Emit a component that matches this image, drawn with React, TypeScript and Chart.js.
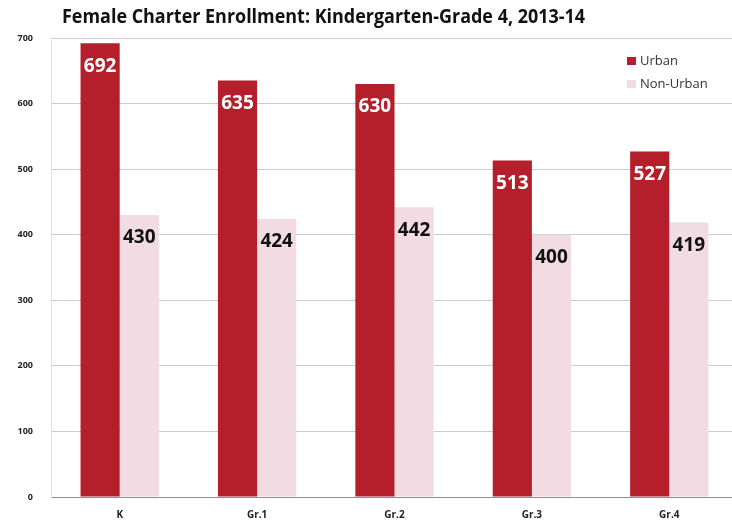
import React, { useEffect, useRef } from "react";
import { Chart, registerables } from "chart.js";

Chart.register(...registerables);

const TITLE = "Female Charter Enrollment: Kindergarten-Grade 4, 2013-14";
const CATEGORIES = ["K", "Gr.1", "Gr.2", "Gr.3", "Gr.4"];
const URBAN = [692, 635, 630, 513, 527];
const NON_URBAN = [430, 424, 442, 400, 419];
const SERIES_NAMES = ["Urban", "Non-Urban"];
const Y_MAX = 700;
const Y_STEP = 100;

const URBAN_COLOR = "#B41F2B";
const NON_URBAN_COLOR = "#F1DCE4";

const titlePlugin = {
  id: "customTitle",
  afterDraw(chart: any) {
    const ctx = chart.ctx;
    ctx.save();
    ctx.font = 'bold 20px "Open Sans"';
    ctx.fillStyle = "#111";
    ctx.textAlign = "left";
    ctx.textBaseline = "middle";
    const w = ctx.measureText(TITLE).width;
    const target = 523;
    ctx.translate(62, 17);
    ctx.scale(Math.min(1, target / w), 1);
    ctx.fillText(TITLE, 0, 0);
    ctx.restore();
  },
};

const valueLabels = {
  id: "valueLabels",
  afterDatasetsDraw(chart: any) {
    const ctx = chart.ctx;
    chart.data.datasets.forEach((ds: any, di: number) => {
      const meta = chart.getDatasetMeta(di);
      meta.data.forEach((bar: any, i: number) => {
        const v = ds.data[i];
        ctx.save();
        ctx.font = 'bold 19px "Open Sans"';
        ctx.fillStyle = di === 0 ? "#ffffff" : "#111111";
        ctx.textAlign = "center";
        ctx.textBaseline = "middle";
        const txt = String(v);
        const w = ctx.measureText(txt).width;
        ctx.translate(bar.x, bar.y + 23);
        ctx.scale(Math.min(1, 35 / w), 1);
        ctx.fillText(txt, 0, 0);
        ctx.restore();
      });
    });
  },
};

const legendPlugin = {
  id: "customLegend",
  afterDraw(chart: any) {
    const ctx = chart.ctx;
    const x = 627;
    const ys = [61, 84];
    chart.data.datasets.forEach((ds: any, di: number) => {
      ctx.save();
      ctx.fillStyle = ds.backgroundColor;
      ctx.fillRect(x, ys[di] - 4, 9, 8);
      ctx.font = '13px "Open Sans"';
      ctx.fillStyle = "#333";
      ctx.textAlign = "left";
      ctx.textBaseline = "middle";
      ctx.fillText(ds.label, x + 13, ys[di]);
      ctx.restore();
    });
  },
};

export default function App() {
  const ref = useRef<HTMLCanvasElement | null>(null);
  useEffect(() => {
    document.body.style.margin = "0";
    document.body.style.overflow = "hidden";
    if (!ref.current) return;
    const chart = new Chart(ref.current, {
      type: "bar",
      data: {
        labels: CATEGORIES,
        datasets: [
          { label: SERIES_NAMES[0], data: URBAN, backgroundColor: URBAN_COLOR, borderWidth: 0 },
          { label: SERIES_NAMES[1], data: NON_URBAN, backgroundColor: NON_URBAN_COLOR, borderWidth: 0 },
        ],
      },
      options: {
        responsive: false,
        animation: false,
        layout: { padding: { top: 38, right: 2, left: 0, bottom: 0 } },
        datasets: { bar: { categoryPercentage: 0.57, barPercentage: 1 } },
        plugins: {
          legend: { display: false },
          title: { display: false },
          tooltip: { enabled: false },
        },
        scales: {
          x: {
            grid: { display: false, drawTicks: false },
            border: { display: true, color: "#8f8f8f", width: 1 },
            ticks: {
              color: "#222",
              font: { family: '"Open Sans"', size: 10, weight: "bold" },
              padding: 12,
            },
            afterFit(scale: any) {
              scale.height = 32;
            },
          },
          y: {
            min: 0,
            max: Y_MAX,
            ticks: {
              stepSize: Y_STEP,
              color: "#222",
              font: { family: '"Open Sans"', size: 9, weight: "bold" },
              padding: 18,
            },
            grid: { color: "#c9cbd3", drawTicks: false, lineWidth: 1 },
            border: { display: true, color: "#e2e2e2" },
            afterFit(scale: any) {
              scale.width = 51;
            },
          },
        },
      },
      plugins: [valueLabels, titlePlugin, legendPlugin],
    });
    return () => chart.destroy();
  }, []);
  return (
    <div style={{ width: 740, height: 529, background: "#fff" }}>
      <canvas ref={ref} width={740} height={529} />
    </div>
  );
}
